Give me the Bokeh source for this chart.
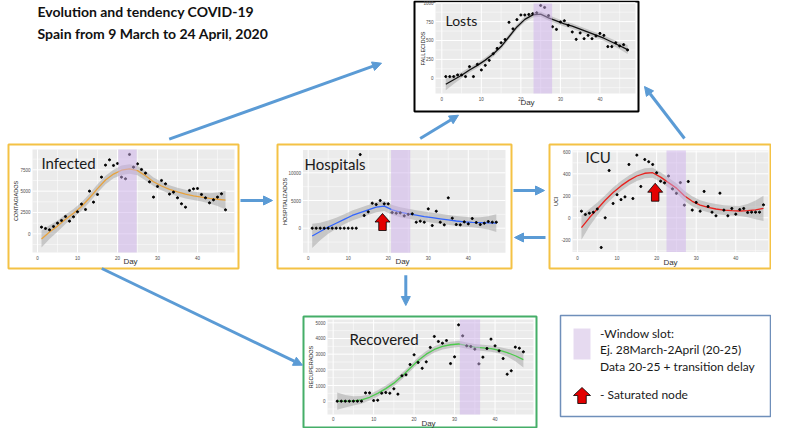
import numpy as np
from bokeh.plotting import figure
from bokeh.models import Range1d, Arrow, NormalHead
from bokeh.core.properties import value
from bokeh.embed import file_html
from bokeh.resources import INLINE

# ---------------- data ----------------
days = list(range(1, 48))
infected = [780, 625, 470, 860, 1250, 1560, 2030, 1480, 1990, 2580, 3480, 2850, 5000, 3710, 4610, 6640,
            8050, 8670, 8010, 8240, 6640, 6450, 9300, 7810, 8200, 7540, 7110, 6090, 4300, 5550, 6250, 5860,
            4650, 4880, 4220, 3520, 3120, 5080, 5270, 5310, 4610, 4220, 3630, 3980, 4300, 4690, 2810]
hospitals = [0, 0, 0, 0, 0, 0, 0, 0, 0, 0, 0, 0, 13300, 2290, 2950, 4520, 4280, 5000, 4400, 4400, 2830,
             2710, 2770, 2230, 2500, 2590, 1080, 1265, 1080, 3490, 480, 3070, 1080, 600, 5480, 1810, 660,
             600, 1140, 780, 1750, 1020, 660, 900, 1200, 1080, 1080]
icu = [60, 30, 42, 50, 80, -270, 0, 430, 130, 210, 165, 190, 485, 175, 570, 285, 530, 510, 485, 410, 333,
       318, 380, 263, 222, 320, 115, 330, 70, 140, 60, 240, 103, 51, 18, 224, 70, 18, 85, 33, 75, 85, 48,
       51, 51, 51, 118]
lost = [22, 22, 22, 44, 44, 22, 154, 22, 184, 110, 171, 237, 325, 395, 470, 513, 741, 654, 776, 838, 838,
        845, 855, 868, 964, 938, 830, 683, 647, 745, 762, 700, 613, 515, 600, 524, 568, 524, 560, 594, 568,
        419, 419, 470, 428, 445, 375]
recovered = [0, 0, 0, 0, 0, 0, 0, 530, 530, 40, 60, 510, 550, 510, 790, 450, 1620, 1680, 2340, 2960, 2470,
             2100, 2510, 3430, 4130, 3810, 3700, 3870, 2400, 2830, 4870, 4170, 3530, 3490, 3320, 2380, 2810,
             3360, 3960, 3530, 3210, 2720, 1720, 1940, 3450, 3380, 3150]

fit_days = list(range(1, 48, 2))
infected_fit = [-600, 200, 900, 1700, 2400, 3200, 4200, 5300, 6300, 7000, 7450, 7600, 7400, 6800, 6100,
                5600, 5200, 4900, 4650, 4450, 4300, 4150, 4050, 3950]
infected_band = [1000, 800, 650, 550, 500, 500, 500, 500, 500, 500, 550, 550, 550, 550, 500, 500, 500, 500,
                 500, 500, 500, 600, 800, 1100]
hospitals_fit = [-1400, -600, 200, 900, 1600, 2300, 2800, 3300, 3800, 4000, 3300, 2900, 2600, 2350, 2100,
                 1900, 1700, 1500, 1300, 1150, 1050, 1000, 950, 900]
hospitals_band = [2200, 1600, 1200, 1000, 900, 900, 900, 900, 900, 900, 900, 900, 900, 900, 900, 900, 900,
                  900, 900, 900, 900, 1000, 1200, 1600]
icu_fit = [-90, 0, 80, 160, 230, 290, 340, 380, 405, 410, 370, 320, 270, 200, 150, 115, 95, 80, 70, 65, 62,
           65, 72, 85]
icu_band = [110, 80, 60, 45, 45, 45, 45, 45, 45, 45, 45, 45, 45, 45, 45, 45, 45, 45, 45, 45, 45, 60, 85, 115]
lost_fit = [-80, -20, 40, 110, 170, 240, 320, 420, 550, 680, 780, 840, 850, 800, 760, 720, 690, 650, 610,
            570, 530, 480, 430, 380]
lost_band = [80, 55, 40, 35, 35, 35, 35, 35, 35, 35, 35, 35, 35, 35, 35, 35, 35, 35, 35, 35, 35, 40, 45, 60]
recovered_fit = [0, 0, 20, 80, 250, 500, 800, 1150, 1600, 2100, 2600, 3000, 3300, 3500, 3600, 3650, 3550,
                 3450, 3400, 3350, 3250, 3100, 2900, 2650]
recovered_band = [550, 400, 300, 250, 200, 200, 200, 200, 200, 200, 200, 200, 200, 200, 200, 200, 200, 200,
                  200, 200, 200, 250, 350, 500]

infected_window = [20.2, 24.8]
hospitals_window = [20.7, 25.5]
icu_window = [22.5, 27.4]
lost_window = [23.2, 27.9]
recovered_window = [31.3, 36.3]

x_ticks = [0, 10, 20, 30, 40]
infected_yticks = [0, 2500, 5000, 7500]
hospitals_yticks = [0, 5000, 10000]
icu_yticks = [-200, 0, 200, 400, 600]
lost_yticks = [0, 250, 500, 750, 1000]
recovered_yticks = [0, 1000, 2000, 3000, 4000, 5000]

title_lines = ["Evolution and tendency COVID-19", "Spain from 9 March to 24 April, 2020"]
legend_lines = ["-Window slot:", "Ej. 28March-2April (20-25)", "Data 20-25 + transition delay"]
legend_arrow_label = "- Saturated node"

# ---------------- canvas ----------------
PX0, PX1, PY0, PY1 = 8, 779, 8, 436
p = figure(width=771, height=428, x_range=Range1d(PX0, PX1), y_range=Range1d(PY1, PY0),
           x_axis_location=None, y_axis_location=None, min_border=0,
           toolbar_location=None, output_backend="svg", outline_line_color=None,
           background_fill_color="white", border_fill_color="white")
p.grid.visible = False

GG = "Liberation Sans"
OF = "Lato"
GOLD = "#F4C245"


def panel(key, lay, ys, fit, band, win, yticks, color, ylab, title):
    gx0, gx1, gy0, gy1 = lay["gray"]
    dx0, dx1, dy0, dy1 = lay["data"]
    sx = (dx1 - dx0) / (gx1 - gx0)
    sy = (dy1 - dy0) / (gy1 - gy0)
    p.extra_x_ranges[key] = Range1d(dx0 - (gx0 - PX0) * sx, dx1 + (PX1 - gx1) * sx)
    p.extra_y_ranges[key] = Range1d(dy0 - (PY1 - gy1) * sy, dy1 + (gy0 - PY0) * sy)
    kw = dict(x_range_name=key, y_range_name=key)

    bx0, by0, bx1, by1 = lay["box"]
    p.quad(left=bx0, right=bx1, top=by0, bottom=by1, fill_color="white",
           line_color=lay["box_color"], line_width=lay["box_width"])
    p.quad(left=dx0, right=dx1, bottom=dy0, top=dy1, fill_color="#EBEBEB", line_color=None, **kw)

    xminor = [t for t in [x_ticks[0] - 5] + [t + 5 for t in x_ticks] if dx0 < t < dx1]
    step = yticks[1] - yticks[0]
    yminor = [t for t in [yticks[0] - step / 2] + [t + step / 2 for t in yticks] if dy0 < t < dy1]
    p.segment(x0=xminor, x1=xminor, y0=[dy0] * len(xminor), y1=[dy1] * len(xminor),
              line_color="white", line_width=0.5, **kw)
    p.segment(x0=[dx0] * len(yminor), x1=[dx1] * len(yminor), y0=yminor, y1=yminor,
              line_color="white", line_width=0.5, **kw)
    xt = [t for t in x_ticks if dx0 < t < dx1]
    p.segment(x0=xt, x1=xt, y0=[dy0] * len(xt), y1=[dy1] * len(xt), line_color="white", line_width=1, **kw)
    p.segment(x0=[dx0] * len(yticks), x1=[dx1] * len(yticks), y0=yticks, y1=yticks,
              line_color="white", line_width=1, **kw)

    lo = [f - b for f, b in zip(fit, band)]
    hi = [f + b for f, b in zip(fit, band)]
    p.varea(x=fit_days, y1=lo, y2=hi, fill_color="#999999", fill_alpha=0.45, **kw)
    p.line(fit_days, fit, line_color=color, line_width=1.3, **kw)
    p.scatter(days, ys, size=2.1, color="black", **kw)
    p.quad(left=win[0], right=win[1], bottom=dy0, top=dy1, fill_color="#CDAFEB", fill_alpha=0.5,
           line_color=None, **kw)

    p.text(x=[dx0] * len(yticks), y=yticks, text=[str(t) for t in yticks], x_offset=-2,
           text_align="right", text_baseline="middle", text_font=value(GG), text_font_size="4.5px",
           text_color="#4D4D4D", **kw)
    p.text(x=xt, y=[dy0] * len(xt), text=[str(t) for t in xt], y_offset=lay["xlab_off"],
           text_align="center", text_baseline="middle", text_font=value(GG), text_font_size="4.5px",
           text_color="#4D4D4D", **kw)
    p.text(x=[lay["ylab_x"]], y=[(gy0 + gy1) / 2], text=[ylab], angle=np.pi / 2, text_align="center",
           text_baseline="middle", text_font=value(GG), text_font_size="5.5px", text_color="#222222")
    p.text(x=[lay["day"][0]], y=[lay["day"][1]], text=["Day"], text_align="center", text_baseline="middle",
           text_font=value(GG), text_font_size="8px", text_color="#333333")
    p.text(x=[lay["title"][0]], y=[lay["title"][1]], text=[title], text_align="left",
           text_baseline="middle", text_font=value(OF), text_font_size=lay["title_size"],
           text_color="#1a1a1a")


layouts = {
    "inf": dict(box=(16, 152, 246, 276), box_color=GOLD, box_width=2, gray=(40, 242, 157, 260),
                data=(-1.25, 49.25, -2192, 9880), xlab_off=5, ylab_x=23, day=(138, 269),
                title=(49, 170), title_size="15px"),
    "hos": dict(box=(285, 152, 519, 276), box_color=GOLD, box_width=2, gray=(310.5, 513, 157.4, 260.3),
                data=(-1.3, 49.3, -4445, 14145), xlab_off=5, ylab_x=292, day=(410, 269),
                title=(312, 171), title_size="15px"),
    "icu": dict(box=(557, 152, 778, 276), box_color=GOLD, box_width=2, gray=(580, 776, 158, 259.6),
                data=(-1.26, 48.27, -312, 612), xlab_off=5.5, ylab_x=563.5, day=(678, 270),
                title=(593, 164), title_size="15px"),
    "lost": dict(box=(422, 9, 646, 119), box_color="black", box_width=2, gray=(443, 643, 11, 101),
                 data=(-1.6, 49.0, -202, 990), xlab_off=5, ylab_x=430, day=(535, 110),
                 title=(453, 28), title_size="14px"),
    "rec": dict(box=(311, 324, 544, 435), box_color="#45AE68", box_width=2, gray=(335, 541, 327, 422),
                data=(-1.4, 49.5, -850, 5212), xlab_off=4, ylab_x=318.5, day=(436, 430.5),
                title=(357, 346), title_size="15px"),
}

# ---------------- arrows (drawn first, under boxes) ----------------
ARROW = "#5B9BD5"
arrow_pos = [(176.7, 146.7, 389, 70.7), (427.7, 146, 466, 122.7), (692, 146, 652, 94),
             (248, 208, 280, 208), (521, 198, 552, 198), (553, 245, 522, 245),
             (413.3, 282.7, 413.3, 313), (109.3, 276, 310, 372.7)]
for x0, y0, x1, y1 in arrow_pos:
    p.add_layout(Arrow(end=NormalHead(size=9, fill_color=ARROW, line_color=ARROW),
                       x_start=x0, y_start=y0, x_end=x1, y_end=y1, line_color=ARROW, line_width=3))

panel("inf", layouts["inf"], infected, infected_fit, infected_band, infected_window, infected_yticks,
      "#E8A23C", "CONTAGIADOS", "Infected")
panel("hos", layouts["hos"], hospitals, hospitals_fit, hospitals_band, hospitals_window, hospitals_yticks,
      "#3366FF", "HOSPITALIZADOS", "Hospitals")
panel("icu", layouts["icu"], icu, icu_fit, icu_band, icu_window, icu_yticks,
      "#E8221E", "UCI", "ICU")
panel("lost", layouts["lost"], lost, lost_fit, lost_band, lost_window, lost_yticks,
      "#111111", "FALLECIDOS", "Losts")
panel("rec", layouts["rec"], recovered, recovered_fit, recovered_band, recovered_window, recovered_yticks,
      "#4CCB4C", "RECUPERADOS", "Recovered")


def up_arrow(cx, tip, base, w):
    hh = (base - tip) * 0.5
    sw = w * 0.5
    xs = [cx, cx + w / 2, cx + sw / 2, cx + sw / 2, cx - sw / 2, cx - sw / 2, cx - w / 2]
    ys = [tip, tip + hh, tip + hh, base, base, tip + hh, tip + hh]
    p.patch(xs, ys, fill_color="#E30000", line_color="black", line_width=0.8)


up_arrow(390, 221, 238, 15)
up_arrow(662.7, 190.7, 208.7, 15)

# ---------------- title ----------------
p.text(x=[45, 45], y=[19, 41], text=title_lines, text_align="left", text_baseline="middle",
       text_font=value(OF), text_font_size="14px", text_font_style="bold", text_color="#111111")

# ---------------- legend ----------------
p.quad(left=568, right=778, top=323, bottom=424, fill_color="white", line_color="#6F8FBA", line_width=1.5)
p.quad(left=581, right=598, top=336, bottom=367, fill_color="#E6DAF0", line_color=None)
p.text(x=[607.5] * 3, y=[340.7, 357.3, 374], text=legend_lines, text_align="left", text_baseline="middle",
       text_font=value(OF), text_font_size="12px", text_color="#1a1a1a")
up_arrow(589.5, 395, 411, 17)
p.text(x=[607.5], y=[401.7], text=[legend_arrow_label], text_align="left", text_baseline="middle",
       text_font=value(OF), text_font_size="12px", text_color="#1a1a1a")

open("out.html", "w").write(file_html(p, INLINE))
